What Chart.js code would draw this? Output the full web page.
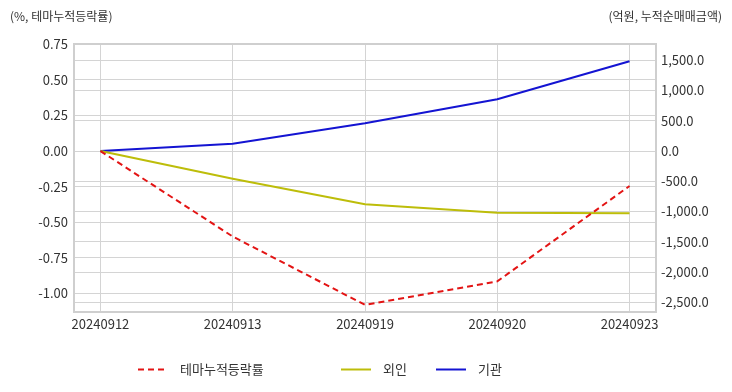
<!DOCTYPE html>
<html>
<head>
<meta charset="utf-8">
<script src="https://cdn.jsdelivr.net/npm/chart.js@4.4.1/dist/chart.umd.min.js"></script>
<style>
  html, body { margin: 0; padding: 0; background: #fff; }
  #wrap { position: relative; width: 732px; height: 392px; }
  .unit { position: absolute; top: 7px; font: 12px "Noto Sans CJK KR", sans-serif; color: #333; }
</style>
</head>
<body>
<div id="wrap">
  <div class="unit" style="left:10px;">(%, 테마누적등락률)</div>
  <div class="unit" style="right:10px;">(억원, 누적순매매금액)</div>
  <canvas id="chart" width="732" height="392"></canvas>
</div>
<script>
const dates = ['20240912', '20240913', '20240919', '20240920', '20240923'];
const themeRate = [0.00, -0.60, -1.08, -0.915, -0.245];
const foreignNet = [0, -460, -880, -1020, -1030];
const instNet = [0, 120, 458, 855, 1483];
const leftTicks = [0.75, 0.50, 0.25, 0.00, -0.25, -0.50, -0.75, -1.00];
const rightTicks = [1500, 1000, 500, 0, -500, -1000, -1500, -2000, -2500];

const FONT = '"Noto Sans CJK KR", sans-serif';
const GRID = '#d4d4d4';

const toXY = arr => arr.map((v, i) => ({ x: i, y: v }));

const areaBorder = {
  id: 'areaBorder',
  afterDraw(chart) {
    const a = chart.chartArea, ctx = chart.ctx;
    ctx.save();
    ctx.strokeStyle = '#cfcfcf';
    ctx.lineWidth = 2;
    ctx.strokeRect(a.left, a.top, a.right - a.left, a.bottom - a.top);
    ctx.restore();
  }
};

// legend drawn by hand so the item spacing matches the original
const legendX = [138, 341, 436];
const bottomLegend = {
  id: 'bottomLegend',
  afterDraw(chart) {
    const ctx = chart.ctx, y = 369.5;
    ctx.save();
    ctx.font = '13px ' + FONT;
    ctx.textBaseline = 'middle';
    chart.data.datasets.forEach((ds, i) => {
      const x = legendX[i];
      ctx.strokeStyle = ds.borderColor;
      ctx.lineWidth = 2;
      ctx.setLineDash(ds.borderDash || []);
      ctx.beginPath();
      ctx.moveTo(x, y);
      ctx.lineTo(x + 30, y);
      ctx.stroke();
      ctx.setLineDash([]);
      ctx.fillStyle = '#333';
      ctx.fillText(ds.label, x + 42, y);
    });
    ctx.restore();
  }
};

new Chart(document.getElementById('chart'), {
  type: 'line',
  data: {
    datasets: [
      { label: '테마누적등락률', data: toXY(themeRate), yAxisID: 'y', borderColor: '#e31414', borderWidth: 2, borderDash: [6, 4], pointRadius: 0, tension: 0 },
      { label: '외인', data: toXY(foreignNet), yAxisID: 'y1', borderColor: '#bdbd0a', borderWidth: 2, pointRadius: 0, tension: 0 },
      { label: '기관', data: toXY(instNet), yAxisID: 'y1', borderColor: '#1414d2', borderWidth: 2, pointRadius: 0, tension: 0 }
    ]
  },
  options: {
    responsive: false,
    animation: false,
    layout: { padding: { top: 44, left: 0, right: 0, bottom: 44 } },
    plugins: {
      legend: { display: false },
      tooltip: { enabled: false }
    },
    scales: {
      x: {
        type: 'linear', min: -0.2, max: 4.2,
        afterBuildTicks: s => { s.ticks = dates.map((d, i) => ({ value: i })); },
        afterFit: s => { s.height = 36; },
        grid: { color: GRID, drawTicks: false },
        border: { display: false },
        ticks: { padding: 4, color: '#333', font: { family: FONT, size: 13 }, callback: v => dates[v] }
      },
      y: {
        position: 'left', min: -1.13, max: 0.752,
        afterBuildTicks: s => { s.ticks = leftTicks.map(v => ({ value: v })); },
        afterFit: s => { s.width = 74; },
        grid: { color: GRID, drawTicks: false },
        border: { display: false },
        ticks: { padding: 6, color: '#333', font: { family: FONT, size: 13 }, callback: v => v.toFixed(2) }
      },
      y1: {
        position: 'right', min: -2660, max: 1768,
        afterBuildTicks: s => { s.ticks = rightTicks.map(v => ({ value: v })); },
        afterFit: s => { s.width = 76; },
        grid: { color: GRID, drawTicks: false },
        border: { display: false },
        ticks: { padding: 5, color: '#333', font: { family: FONT, size: 13 },
          callback: v => v.toLocaleString('en-US', { minimumFractionDigits: 1, maximumFractionDigits: 1 }) }
      }
    }
  },
  plugins: [areaBorder, bottomLegend]
});
</script>
</body>
</html>
